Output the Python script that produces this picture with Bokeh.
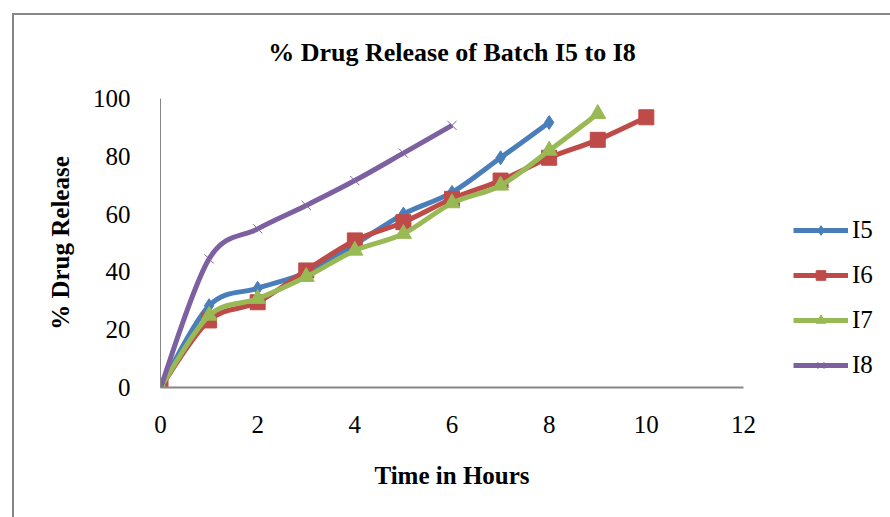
from bokeh.plotting import figure
from bokeh.models import Range1d, Legend, LegendItem, FixedTicker, LinearAxis
from bokeh.embed import file_html
from bokeh.resources import INLINE

# ---- data ----
hours_i5 = [0, 1, 2, 3, 4, 5, 6, 7, 8]
release_i5 = [0, 28.3, 34.3, 39.8, 49.5, 60.0, 67.5, 79.5, 91.7]
hours_i6 = [0, 1, 2, 3, 4, 5, 6, 7, 8, 9, 10]
release_i6 = [0, 23.2, 29.5, 40.5, 50.9, 57.2, 65.3, 71.6, 79.5, 85.7, 93.5]
hours_i7 = [0, 1, 2, 3, 4, 5, 6, 7, 8, 9]
release_i7 = [0, 24.9, 30.7, 38.3, 47.4, 53.2, 63.8, 69.9, 82.0, 94.7]
hours_i8 = [0, 1, 2, 3, 4, 5, 6]
release_i8 = [0, 44.5, 54.9, 63.0, 71.6, 81.1, 90.7]

series_names = ["I5", "I6", "I7", "I8"]
x_ticks = [0, 2, 4, 6, 8, 10, 12]
y_ticks = [0, 20, 40, 60, 80, 100]

title_text = "% Drug Release of Batch I5 to I8"
x_title = "Time in Hours"
y_title = "% Drug Release"

FONT = "Liberation Serif"
colors = ["#4A7EBB", "#BE4B48", "#98B954", "#7D60A0"]
NAN = float("nan")

p = figure(
    frame_width=583, frame_height=289,
    min_border_left=146, min_border_right=147,
    min_border_top=83, min_border_bottom=130,
    x_range=Range1d(0, 12), y_range=Range1d(0, 100),
    output_backend="svg", toolbar_location=None,
)
p.styles = {"margin-left": "12px", "margin-top": "13px",
            "border-left": "2px solid #868686", "border-top": "2px solid #868686"}

p.xgrid.visible = False
p.ygrid.visible = False
p.outline_line_color = None
p.background_fill_color = "white"
p.border_fill_color = "white"

xax = p.below[0]
yax = p.left[0]
for ax in (xax, yax):
    ax.major_tick_line_color = None
    ax.minor_tick_line_color = None
    ax.axis_line_color = "#868686"
    ax.major_label_text_font = FONT
    ax.major_label_text_font_size = "25px"
    ax.major_label_text_color = "black"
    ax.axis_label_text_font = FONT
    ax.axis_label_text_font_size = "25px"
    ax.axis_label_text_font_style = "bold"
    ax.axis_label_text_color = "black"

xax.ticker = FixedTicker(ticks=x_ticks)
yax.ticker = FixedTicker(ticks=y_ticks)
xax.axis_line_width = 2
yax.axis_line_width = 1
xax.axis_label = x_title
yax.axis_label = y_title
xax.major_label_standoff = 22
yax.major_label_standoff = 24
xax.axis_label_standoff = 26
yax.axis_label_standoff = 16

# chart title drawn as the label of an empty axis above the frame
title_axis = LinearAxis(ticker=FixedTicker(ticks=[]), axis_label=title_text)
title_axis.axis_line_color = None
title_axis.major_tick_line_color = None
title_axis.minor_tick_line_color = None
title_axis.major_label_text_font_size = "0px"
title_axis.axis_label_text_font = FONT
title_axis.axis_label_text_font_size = "26px"
title_axis.axis_label_text_font_style = "bold"
title_axis.axis_label_text_color = "black"
title_axis.axis_label_standoff = 32
p.add_layout(title_axis, "above")


def smooth_segments(xs, ys):
    """Bezier control points (Catmull-Rom style) between consecutive data points."""
    n = len(xs)
    x0, y0, x1, y1, cx0, cy0, cx1, cy1 = [], [], [], [], [], [], [], []
    for i in range(n - 1):
        xp, yp = (xs[i - 1], ys[i - 1]) if i > 0 else (xs[i], ys[i])
        xn, yn = (xs[i + 2], ys[i + 2]) if i + 2 < n else (xs[i + 1], ys[i + 1])
        x0.append(xs[i]); y0.append(ys[i])
        x1.append(xs[i + 1]); y1.append(ys[i + 1])
        cx0.append(xs[i] + (xs[i + 1] - xp) / 6.0)
        cy0.append(ys[i] + (ys[i + 1] - yp) / 6.0)
        cx1.append(xs[i + 1] - (xn - xs[i]) / 6.0)
        cy1.append(ys[i + 1] - (yn - ys[i]) / 6.0)
    return dict(x0=x0, y0=y0, x1=x1, y1=y1, cx0=cx0, cy0=cy0, cx1=cx1, cy1=cy1)


data = [(hours_i5, release_i5), (hours_i6, release_i6),
        (hours_i7, release_i7), (hours_i8, release_i8)]
markers = ["diamond", "square", "triangle", "x"]
sizes = [14, 15, 16, 13]

legend_items = []
for (xs, ys), name, col, mk, sz in zip(data, series_names, colors, markers, sizes):
    seg = smooth_segments(xs, ys)
    p.bezier(x0=seg["x0"], y0=seg["y0"], x1=seg["x1"], y1=seg["y1"],
             cx0=seg["cx0"], cy0=seg["cy0"], cx1=seg["cx1"], cy1=seg["cy1"],
             line_color=col, line_width=5)
    if mk == "x":
        p.scatter(x=xs, y=ys, marker=mk, size=sz, line_color=col, line_width=1)
    else:
        p.scatter(x=xs, y=ys, marker=mk, size=sz, fill_color=col, line_color=col)
    # legend swatch renderers (a single NaN row: nothing drawn on the plot)
    sw = p.line(x=[NAN], y=[NAN], line_color=col, line_width=5)
    if mk == "x":
        sm = p.scatter(x=[NAN], y=[NAN], marker=mk, size=12, line_color=col, line_width=1)
    else:
        sm = p.scatter(x=[NAN], y=[NAN], marker=mk, size=sz - 1, fill_color=col, line_color=col)
    legend_items.append(LegendItem(label=name, renderers=[sw, sm]))

legend = Legend(items=legend_items, location=(50, 8))
legend.label_text_font = FONT
legend.label_text_font_size = "25px"
legend.label_text_color = "black"
legend.glyph_width = 55
legend.glyph_height = 24
legend.label_height = 24
legend.label_standoff = 4
legend.spacing = 17
legend.padding = 0
legend.margin = 0
legend.border_line_color = None
legend.background_fill_alpha = 0
p.add_layout(legend, "right")

open("out.html", "w").write(file_html(p, INLINE))
